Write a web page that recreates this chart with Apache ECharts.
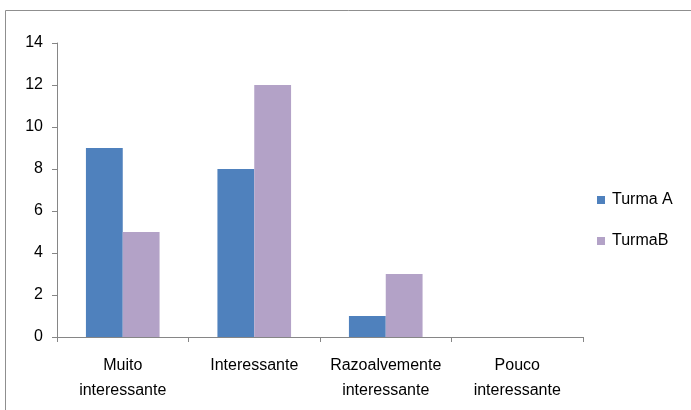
<!DOCTYPE html>
<html>
<head>
<meta charset="utf-8">
<script src="https://cdn.jsdelivr.net/npm/echarts@6/dist/echarts.min.js"></script>
<style>
  html, body { margin: 0; padding: 0; background: #fff; }
  #chart { width: 691px; height: 410px; }
</style>
</head>
<body>
<div id="chart"></div>
<script>
// Avaliação das turmas
const categories = ['Muito\ninteressante', 'Interessante', 'Razoalvemente\ninteressante', 'Pouco\ninteressante'];
const turmaA = [9, 8, 1, 0];
const turmaB = [5, 12, 3, 0];
const yTicks = { min: 0, max: 14, interval: 2 };

const FONT = "'Liberation Sans', Arial, sans-serif";
const AXIS_COLOR = '#868686';

const chart = echarts.init(document.getElementById('chart'));
chart.setOption({
  backgroundColor: '#ffffff',
  animation: false,
  textStyle: { fontFamily: FONT },
  graphic: [{
    type: 'rect',
    shape: { x: 5.5, y: 10.5, width: 720, height: 440 },
    style: { fill: 'none', stroke: '#8f8f8f', lineWidth: 1 },
    silent: true
  }],
  grid: { left: 57, right: 108, top: 43, bottom: 73, containLabel: false },
  legend: {
    orient: 'vertical',
    left: 597,
    top: 192,
    padding: 0,
    itemWidth: 8,
    itemHeight: 8,
    itemGap: 25,
    icon: 'rect',
    textStyle: { fontSize: 16, lineHeight: 14, color: '#000', fontFamily: FONT, padding: [0, 0, 0, 2] },
    data: ['Turma A', 'TurmaB']
  },
  xAxis: {
    type: 'category',
    data: categories,
    axisLine: { lineStyle: { color: AXIS_COLOR } },
    axisTick: { show: true, length: 5, lineStyle: { color: AXIS_COLOR } },
    axisLabel: {
      interval: 0,
      margin: 16,
      fontSize: 16,
      lineHeight: 25,
      color: '#000',
      fontFamily: FONT
    },
    splitLine: { show: false }
  },
  yAxis: {
    type: 'value',
    min: yTicks.min,
    max: yTicks.max,
    interval: yTicks.interval,
    axisLine: { show: true, lineStyle: { color: AXIS_COLOR } },
    axisTick: { show: true, length: 5, lineStyle: { color: AXIS_COLOR } },
    axisLabel: { margin: 14, fontSize: 16, color: '#000', fontFamily: FONT },
    splitLine: { show: false }
  },
  series: [
    {
      name: 'Turma A',
      type: 'bar',
      data: turmaA,
      barGap: '0%',
      barCategoryGap: '44%',
      itemStyle: { color: '#4F81BD' }
    },
    {
      name: 'TurmaB',
      type: 'bar',
      data: turmaB,
      barGap: '0%',
      barCategoryGap: '44%',
      itemStyle: { color: '#B3A2C7' }
    }
  ]
});
</script>
</body>
</html>
